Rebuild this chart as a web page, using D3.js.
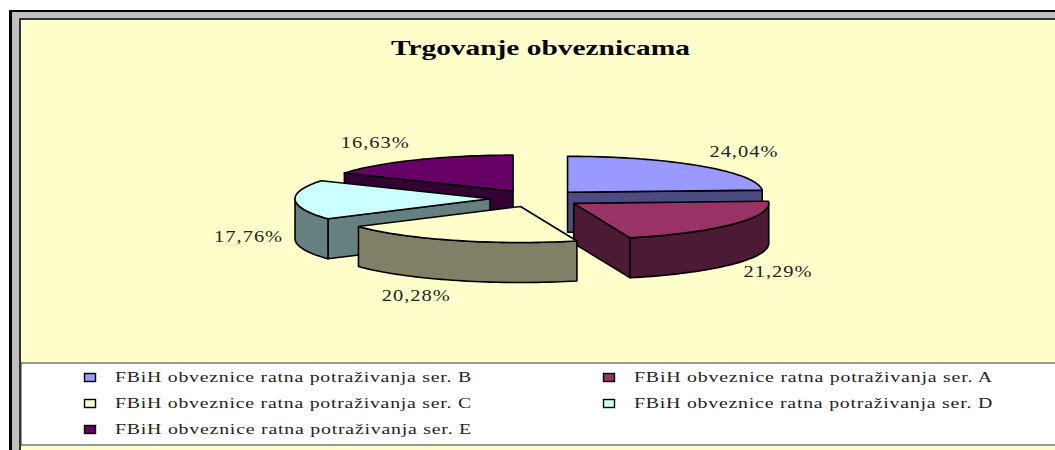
<!DOCTYPE html>
<html><head><meta charset="utf-8">
<script src="https://cdn.jsdelivr.net/npm/d3@7/dist/d3.min.js"></script>
<style>html,body{margin:0;padding:0;background:#fff}svg{display:block}text{font-family:"Liberation Serif",serif;fill:#222}</style>
</head><body><svg id="c" width="1055" height="450"></svg>
<script>
const chartTitle = "Trgovanje obveznicama";
const categories = ["FBiH obveznice ratna potraživanja ser. B","FBiH obveznice ratna potraživanja ser. A","FBiH obveznice ratna potraživanja ser. C","FBiH obveznice ratna potraživanja ser. D","FBiH obveznice ratna potraživanja ser. E"];
const values = [24.04,21.29,20.28,17.76,16.63];
const topColors = ["#9999FF","#993366","#FFFFCC","#CCFFFF","#660066"];
const sideColors = ["#4C4C80","#4D1A33","#808066","#668080","#330033"];

const W=1055,H=450, cx=536, cy=198.5, rx=195, ry=36, depth=40, explode=46, labelRx=253, labelRy=65, labelDrop=36;
const svg=d3.select("#c");
// frame
svg.append("rect").attr("x",9).attr("y",10).attr("width",W).attr("height",H).attr("fill","#000");
svg.append("rect").attr("x",12).attr("y",12).attr("width",W).attr("height",H).attr("fill","#C0C0C0");
svg.append("rect").attr("x",19).attr("y",18).attr("width",W).attr("height",H).attr("fill","#333");
svg.append("rect").attr("x",21).attr("y",20).attr("width",W).attr("height",H).attr("fill","#FFFFCC");
// title
svg.append("text").attr("x",391).attr("y",55).attr("font-size",22).attr("font-weight","bold").style("fill","#000")
  .attr("textLength",299).attr("lengthAdjust","spacingAndGlyphs").text(chartTitle);

const arcs=d3.pie().sort(null).value(d=>d)(values).map((a,i)=>({...a,i,mid:(a.startAngle+a.endAngle)/2}));
const px=(o,a)=>o.x+rx*Math.sin(a), py=(o,a)=>o.y-ry*Math.cos(a);
const line=d3.line();
function arcPts(o,a0,a1,dy=0){
  const n=Math.max(2,Math.ceil(Math.abs(a1-a0)/0.03)), t=d3.scaleLinear().domain([0,n]).range([a0,a1]);
  return d3.range(n+1).map(k=>[px(o,t(k)),py(o,t(k))+dy]);
}
const order=arcs.slice().sort((p,q)=>d3.ascending(-Math.cos(p.mid),-Math.cos(q.mid)));
const g=svg.append("g").attr("stroke","#000").attr("stroke-width",1.6).attr("stroke-linejoin","round");
order.forEach(a=>{
  const o={x:cx+explode*Math.sin(a.mid), y:cy-explode*(ry/rx)*Math.cos(a.mid)};
  const side=sideColors[a.i];
  const face=(ang)=>{const e=[px(o,ang),py(o,ang)];
    g.append("path").attr("fill",side).attr("d",line([[o.x,o.y],e,[e[0],e[1]+depth],[o.x,o.y+depth]])+"Z");};
  if(Math.sin(a.startAngle)<0) face(a.startAngle);
  if(Math.sin(a.endAngle)>0) face(a.endAngle);
  const s0=Math.max(a.startAngle,Math.PI/2), s1=Math.min(a.endAngle,3*Math.PI/2);
  if(s1>s0){
    g.append("path").attr("fill",side).attr("d",line(arcPts(o,s0,s1).concat(arcPts(o,s1,s0,depth)))+"Z");
  }
  g.append("path").attr("fill",topColors[a.i]).attr("d",line([[o.x,o.y]].concat(arcPts(o,a.startAngle,a.endAngle)))+"Z");
});
// labels
const fmt=v=>v.toFixed(2).replace(".",",")+"%";
arcs.forEach(a=>{
  const s=Math.sin(a.mid), c=Math.cos(a.mid);
  svg.append("text").attr("x",cx+labelRx*s)
    .attr("y",cy-labelRy*c+(c<0?labelDrop:0)+5.5)
    .attr("text-anchor",s>0?"start":"end").attr("font-size",16.5).style("letter-spacing","0.8px")
    .attr("textLength",69).attr("lengthAdjust","spacingAndGlyphs").text(fmt(values[a.i]));
});
// legend
const legY=363, legH=82;
svg.append("rect").attr("x",21).attr("y",legY).attr("width",W).attr("height",legH).attr("fill","#fff").attr("stroke","#333").attr("stroke-width",1);
const lx=d3.scaleOrdinal().domain([0,1]).range([84,603]);
const ly=d3.scalePoint().domain([0,1,2]).range([377,429]);
categories.forEach((t,i)=>{
  const col=i%2,row=Math.floor(i/2);
  svg.append("rect").attr("x",lx(col)+.5).attr("y",ly(row)-3.5).attr("width",11).attr("height",8)
    .attr("fill",topColors[i]).attr("stroke","#000").attr("stroke-width",1.4);
  svg.append("text").attr("x",lx(col)+31).attr("y",ly(row)+5).attr("font-size",15.5).style("letter-spacing","0.6px")
    .attr("textLength",col?359:357).attr("lengthAdjust","spacingAndGlyphs").text(t);
});
</script></body></html>
